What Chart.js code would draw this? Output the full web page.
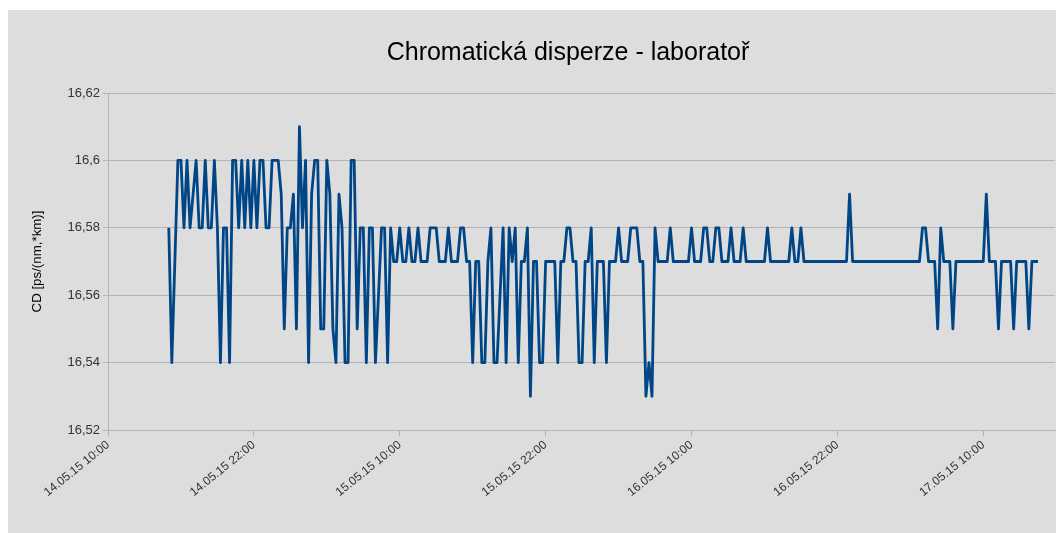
<!DOCTYPE html>
<html>
<head>
<meta charset="utf-8">
<script src="https://cdn.jsdelivr.net/npm/chart.js@4"></script>
<style>
  html, body { margin: 0; padding: 0; background: #fff; }
  #wrap { width: 1056px; height: 533px; }
</style>
</head>
<body>
<div id="wrap"><canvas id="cd"></canvas></div>
<script>
// hours after 14.05.15 10:00, one reading every 15 min
const startHour = 5;
const stepHours = 0.25;

const cdValues = [
  16.58, 16.54, 16.57, 16.60, 16.60, 16.58, 16.60, 16.58, 16.59, 16.60,
  16.58, 16.58, 16.60, 16.58, 16.58, 16.60, 16.58, 16.54, 16.58, 16.58,
  16.54, 16.60, 16.60, 16.58, 16.60, 16.58, 16.60, 16.58, 16.60, 16.58,
  16.60, 16.60, 16.58, 16.58, 16.60, 16.60, 16.60, 16.59, 16.55, 16.58,
  16.58, 16.59, 16.55, 16.61, 16.58, 16.60, 16.54, 16.59, 16.60, 16.60,
  16.55, 16.55, 16.60, 16.59, 16.55, 16.54, 16.59, 16.58, 16.54, 16.54,
  16.60, 16.60, 16.55, 16.58, 16.58, 16.54, 16.58, 16.58, 16.54, 16.56,
  16.58, 16.58, 16.54, 16.58, 16.57, 16.57, 16.58, 16.57, 16.57, 16.58,
  16.57, 16.57, 16.58, 16.57, 16.57, 16.57, 16.58, 16.58, 16.58, 16.57,
  16.57, 16.57, 16.58, 16.57, 16.57, 16.57, 16.58, 16.58, 16.57, 16.57,
  16.54, 16.57, 16.57, 16.54, 16.54, 16.57, 16.58, 16.54, 16.54, 16.56,
  16.58, 16.54, 16.58, 16.57, 16.58, 16.54, 16.57, 16.57, 16.58, 16.53,
  16.57, 16.57, 16.54, 16.54, 16.57, 16.57, 16.57, 16.57, 16.54, 16.57,
  16.57, 16.58, 16.58, 16.57, 16.57, 16.54, 16.54, 16.57, 16.57, 16.58,
  16.54, 16.57, 16.57, 16.57, 16.54, 16.57, 16.57, 16.57, 16.58, 16.57,
  16.57, 16.57, 16.58, 16.58, 16.58, 16.57, 16.57, 16.53, 16.54, 16.53,
  16.58, 16.57, 16.57, 16.57, 16.57, 16.58, 16.57, 16.57, 16.57, 16.57,
  16.57, 16.57, 16.58, 16.57, 16.57, 16.57, 16.58, 16.58, 16.57, 16.57,
  16.58, 16.58, 16.57, 16.57, 16.57, 16.58, 16.57, 16.57, 16.57, 16.58,
  16.57, 16.57, 16.57, 16.57, 16.57, 16.57, 16.57, 16.58, 16.57, 16.57,
  16.57, 16.57, 16.57, 16.57, 16.57, 16.58, 16.57, 16.57, 16.58, 16.57,
  16.57, 16.57, 16.57, 16.57, 16.57, 16.57, 16.57, 16.57, 16.57, 16.57,
  16.57, 16.57, 16.57, 16.57, 16.59, 16.57, 16.57, 16.57, 16.57, 16.57,
  16.57, 16.57, 16.57, 16.57, 16.57, 16.57, 16.57, 16.57, 16.57, 16.57,
  16.57, 16.57, 16.57, 16.57, 16.57, 16.57, 16.57, 16.57, 16.58, 16.58,
  16.57, 16.57, 16.57, 16.55, 16.58, 16.57, 16.57, 16.57, 16.55, 16.57,
  16.57, 16.57, 16.57, 16.57, 16.57, 16.57, 16.57, 16.57, 16.57, 16.59,
  16.57, 16.57, 16.57, 16.55, 16.57, 16.57, 16.57, 16.57, 16.55, 16.57,
  16.57, 16.57, 16.57, 16.55, 16.57, 16.57, 16.57
];

const xTickHours = [0, 12, 24, 36, 48, 60, 72];
const xTickLabels = [
  "14.05.15 10:00", "14.05.15 22:00", "15.05.15 10:00", "15.05.15 22:00",
  "16.05.15 10:00", "16.05.15 22:00", "17.05.15 10:00"
];
const yTicks = [16.52, 16.54, 16.56, 16.58, 16.6, 16.62];

const chartTitle = "Chromatická disperze - laboratoř";
const yTitle = "CD [ps/(nm,*km)]";

const points = cdValues.map((v, i) => ({ x: startHour + i * stepHours, y: v }));

const fontFamily = '"Liberation Sans", Arial, sans-serif';

const backdrop = {
  id: "backdrop",
  beforeDraw(chart) {
    const ctx = chart.ctx;
    ctx.save();
    ctx.fillStyle = "#ffffff";
    ctx.fillRect(0, 0, chart.width, chart.height);
    ctx.fillStyle = "#dddddd";
    ctx.fillRect(8, 10, chart.width - 8, chart.height - 10);
    ctx.restore();
  },
  afterDraw(chart) {
    const ctx = chart.ctx;
    ctx.save();
    ctx.fillStyle = "#000000";
    ctx.font = "25px " + fontFamily;
    ctx.textAlign = "center";
    ctx.textBaseline = "middle";
    ctx.fillText(chartTitle, 568, 53);
    ctx.restore();
  }
};

const gridGray = "#b3b3b3";

new Chart(document.getElementById("cd"), {
  type: "line",
  data: {
    datasets: [{
      label: yTitle,
      data: points,
      borderColor: "#004586",
      borderWidth: 2.8,
      pointRadius: 0,
      tension: 0,
      borderJoinStyle: "round",
      fill: false
    }]
  },
  options: {
    responsive: true,
    maintainAspectRatio: false,
    animation: false,
    layout: { padding: { left: 8, top: 93, right: 1, bottom: 0 } },
    plugins: {
      legend: { display: false },
      tooltip: { enabled: false }
    },
    scales: {
      x: {
        type: "linear",
        min: 0,
        max: 77.9,
        afterBuildTicks(scale) {
          scale.ticks = xTickHours.map(v => ({ value: v }));
        },
        afterFit(scale) { scale.height = 103; },
        ticks: {
          minRotation: 39,
          maxRotation: 39,
          padding: 2,
          color: "#333333",
          font: { family: fontFamily, size: 12 },
          callback: (v) => xTickLabels[xTickHours.indexOf(v)]
        },
        grid: {
          drawOnChartArea: false,
          drawTicks: true,
          tickLength: 6,
          color: gridGray
        },
        border: { color: gridGray, width: 1 }
      },
      y: {
        min: 16.52,
        max: 16.62,
        afterBuildTicks(scale) {
          scale.ticks = yTicks.map(v => ({ value: v }));
        },
        afterFit(scale) { scale.width = 100; },
        ticks: {
          padding: 3,
          color: "#333333",
          font: { family: fontFamily, size: 13 },
          callback: (v) => String(Number(v.toFixed(2))).replace(".", ",")
        },
        grid: {
          color: gridGray,
          tickLength: 5
        },
        border: { color: gridGray, width: 1 },
        title: {
          display: true,
          text: yTitle,
          color: "#000000",
          padding: { top: 21, bottom: 0 },
          font: { family: fontFamily, size: 13.3 }
        }
      }
    }
  },
  plugins: [backdrop]
});
</script>
</body>
</html>
